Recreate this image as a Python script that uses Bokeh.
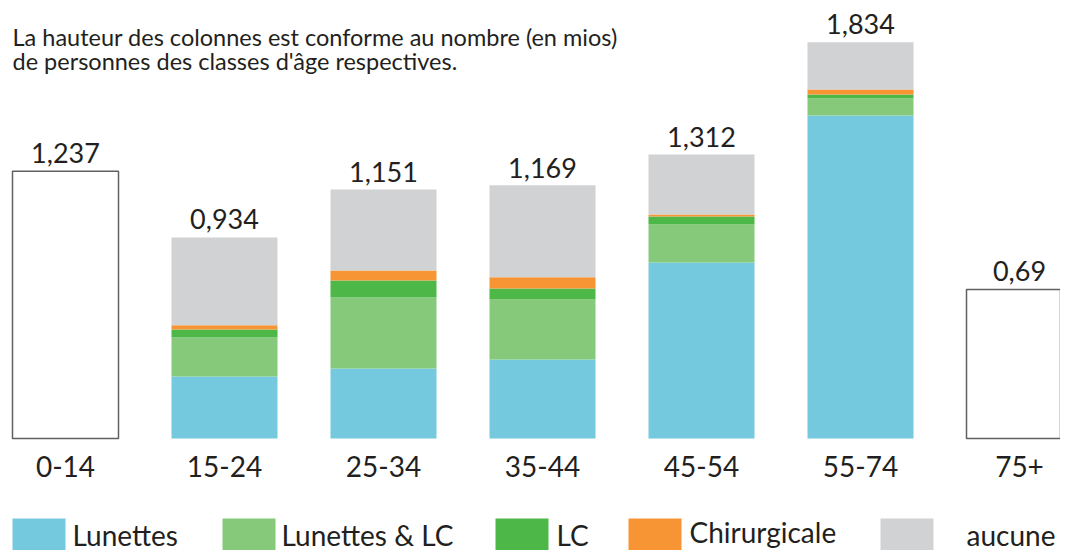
from bokeh.plotting import figure
from bokeh.models import ColumnDataSource, Range1d, Label
from bokeh.embed import file_html
from bokeh.resources import INLINE
from bokeh.core.properties import value

# ---------------- data ----------------
categories = ["0-14", "15-24", "25-34", "35-44", "45-54", "55-74", "75+"]
totals = [1.237, 0.934, 1.151, 1.169, 1.312, 1.834, 0.69]
total_labels = ["1,237", "0,934", "1,151", "1,169", "1,312", "1,834", "0,69"]

stacked_categories = ["15-24", "25-34", "35-44", "45-54", "55-74"]
lunettes = [0.287, 0.324, 0.366, 0.815, 1.495]
lunettes_lc = [0.181, 0.329, 0.278, 0.176, 0.079]
lc = [0.037, 0.079, 0.051, 0.037, 0.019]
chirurgicale = [0.019, 0.046, 0.051, 0.009, 0.023]
aucune = [0.407, 0.375, 0.426, 0.278, 0.218]

empty_categories = ["0-14", "75+"]

series_names = ["Lunettes", "Lunettes & LC", "LC", "Chirurgicale", "aucune"]
series_colors = ["#74c9de", "#86c97a", "#4db848", "#f79534", "#d1d2d4"]

subtitle_lines = [
    "La hauteur des colonnes est conforme au nombre (en mios)",
    "de personnes des classes d'âge respectives.",
]

# ---------------- layout ----------------
W, H = 1060, 550
PX_CAT = 159.0      # pixels between category centres
PX_UNIT = 216.0     # pixels per million
X0 = 65.0           # canvas x of first category centre
BASE = 438.0        # canvas y (from top) of the baseline
BAR_W = 106.0 / PX_CAT
SHIFT = 11          # renderer places alphabetic baseline this much lower

FONT = value("Lato")
TXT = "#231f20"

xs = -X0 / PX_CAT
ye = BASE / PX_UNIT
x_range = Range1d(xs, xs + W / PX_CAT)
y_range = Range1d(ye - H / PX_UNIT, ye)


def dx(cx):
    return xs + cx / PX_CAT


def dy(cy):
    return ye - cy / PX_UNIT


p = figure(width=W, height=H, x_range=x_range, y_range=y_range,
           output_backend="svg", toolbar_location=None,
           x_axis_location=None, y_axis_location=None,
           min_border=0, outline_line_color=None, tools="")
p.grid.visible = False
p.background_fill_color = "white"
p.border_fill_color = "white"

# stacked bars
keys = ["lunettes", "lunettes_lc", "lc", "chirurgicale", "aucune"]
src = ColumnDataSource(dict(
    x=[categories.index(c) for c in stacked_categories],
    lunettes=lunettes, lunettes_lc=lunettes_lc, lc=lc,
    chirurgicale=chirurgicale, aucune=aucune,
))
p.vbar_stack(keys, x="x", width=BAR_W, color=series_colors, line_color=None,
             source=src)

# empty bars
empty_src = ColumnDataSource(dict(
    x=[categories.index(c) for c in empty_categories],
    top=[totals[categories.index(c)] for c in empty_categories],
))
p.vbar(x="x", top="top", bottom=0, width=BAR_W, source=empty_src,
       fill_color="white", line_color="#5f6062", line_width=1.5)

# value labels
lab_src = ColumnDataSource(dict(
    x=list(range(len(categories))), y=totals, t=total_labels, c=categories,
    zero=[0] * len(categories),
))
p.text(x="x", y="y", text="t", source=lab_src, text_align="center",
       text_baseline="alphabetic", y_offset=-7 - SHIFT, text_font=FONT,
       text_font_size="27px", text_color=TXT)
# category labels
p.text(x="x", y="zero", text="c", source=lab_src, text_align="center",
       text_baseline="alphabetic", y_offset=39 - SHIFT, text_font=FONT,
       text_font_size="28px", text_color=TXT)

# subtitle
for i, line in enumerate(subtitle_lines):
    base = 47 + 24 * i
    p.add_layout(Label(x=12, y=H - (base - SHIFT), x_units="screen",
                       y_units="screen", text=line, text_font="Lato",
                       text_font_size="23.5px", text_color=TXT,
                       text_baseline="alphabetic"))

# legend (drawn manually; lifted a little so that texts stay inside)
sq_left = [12, 222, 495, 628, 880]
tx_left = [72, 281, 556, 689, 966]
tx_base = [545, 545, 545, 542, 545]
SQ_TOP = 518
SQ = 53
for i, name in enumerate(series_names):
    l = sq_left[i]
    p.quad(left=dx(l), right=dx(l + SQ), top=dy(SQ_TOP), bottom=dy(SQ_TOP + SQ),
           fill_color=series_colors[i], line_color=None)
    p.text(x=[dx(tx_left[i])], y=[dy(tx_base[i] - SHIFT)], text=[name],
           text_align="left", text_baseline="alphabetic", text_font=FONT,
           text_font_size="28px", text_color=TXT)

open("out.html", "w").write(file_html(p, INLINE))
